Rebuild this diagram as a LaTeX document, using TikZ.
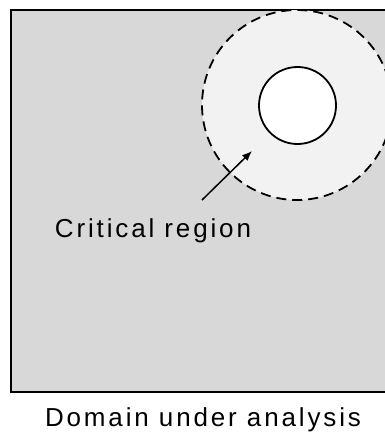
\documentclass[tikz,border=0pt]{standalone}
\usepackage{fontspec}
\setmainfont{Liberation Sans}[LetterSpace=11]
\usetikzlibrary{arrows.meta,positioning}
\definecolor{domgray}{HTML}{D8D8D8}
\definecolor{critgray}{HTML}{F2F2F2}

\begin{document}
\begin{tikzpicture}[
  x=1pt, y=-1pt,
  font=\fontsize{26}{31}\selectfont,
  dom/.style={draw=black, line width=2.2pt, fill=domgray},
  crit/.style={draw=black, line width=1.8pt, fill=critgray, dash pattern=on 10pt off 6pt},
  core/.style={draw=black, line width=1.8pt, fill=white},
  lbl/.style={anchor=base, inner sep=0pt},
  ar/.style={-{Latex[length=10pt, width=8pt]}, line width=1.5pt}
]
\useasboundingbox (0,0) rectangle (384,436);

% domain and regions
\draw[dom] (11,10) rectangle (410,392);
\draw[crit] (297,105) circle (95);
\draw[core] (297.5,105.5) circle (38.5);

% labels
\node[lbl] (crit) at (153,237.5) {Critical region};
\node[lbl] (dom)  at (203,426.5) {Domain under analysis};

% pointer
\coordinate (tail) at (202,200);
\coordinate (tip)  at (252,151);
\draw[ar] (tail) -- (tip);
\end{tikzpicture}
\end{document}
